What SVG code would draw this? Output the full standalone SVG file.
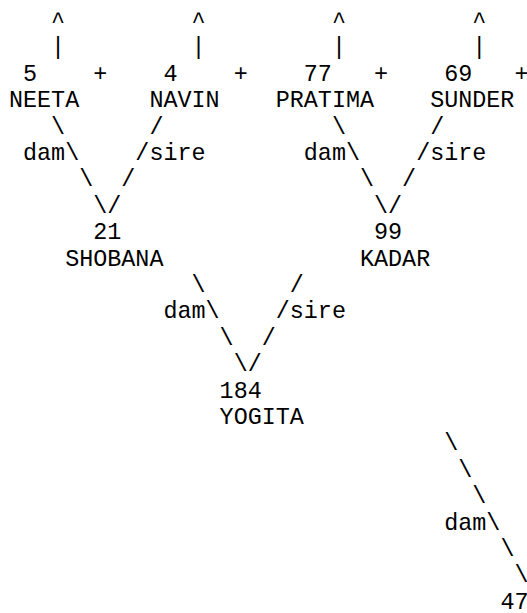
<svg xmlns="http://www.w3.org/2000/svg" width="527" height="613" viewBox="0 0 527 613">
<style>
text { font-family: "Liberation Mono", "Courier New", monospace; font-size: 23.4px; fill: #000; white-space: pre; }
</style>
<rect width="527" height="613" fill="#fff"/>
<g id="connectors">
  <!-- row 0: ^ -->
  <text x="51.12" y="28">^</text>
  <text x="191.52" y="28">^</text>
  <text x="331.92" y="28">^</text>
  <text x="472.32" y="28">^</text>
  <!-- row 1: | -->
  <text x="51.12" y="54.4">|</text>
  <text x="191.52" y="54.4">|</text>
  <text x="331.92" y="54.4">|</text>
  <text x="472.32" y="54.4">|</text>
  <!-- row 2: + -->
  <text x="93.24" y="80.8">+</text>
  <text x="233.64" y="80.8">+</text>
  <text x="374.04" y="80.8">+</text>
  <text x="514.44" y="80.8">+</text>
  <!-- row 4 -->
  <text x="51.12" y="133.6">\</text>
  <text x="149.4" y="133.6">/</text>
  <text x="331.92" y="133.6">\</text>
  <text x="430.2" y="133.6">/</text>
  <!-- row 5 -->
  <text x="23.04" y="160">dam\</text>
  <text x="135.36" y="160">/sire</text>
  <text x="303.84" y="160">dam\</text>
  <text x="416.16" y="160">/sire</text>
  <!-- row 6 -->
  <text x="79.2" y="186.4">\</text>
  <text x="121.32" y="186.4">/</text>
  <text x="360" y="186.4">\</text>
  <text x="402.12" y="186.4">/</text>
  <!-- row 7 -->
  <text x="93.24" y="212.8">\/</text>
  <text x="374.04" y="212.8">\/</text>
  <!-- row 10 -->
  <text x="191.52" y="292">\</text>
  <text x="289.8" y="292">/</text>
  <!-- row 11 -->
  <text x="163.44" y="318.4">dam\</text>
  <text x="275.76" y="318.4">/sire</text>
  <!-- row 12 -->
  <text x="219.6" y="344.8">\</text>
  <text x="261.72" y="344.8">/</text>
  <!-- row 13 -->
  <text x="233.64" y="371.2">\/</text>
  <!-- rows 16-21 -->
  <text x="444.24" y="450.4">\</text>
  <text x="458.28" y="476.8">\</text>
  <text x="472.32" y="503.2">\</text>
  <text x="444.24" y="529.6">dam\</text>
  <text x="500.4" y="556">\</text>
  <text x="514.44" y="582.4">\</text>
</g>
<g id="node-5">
  <text x="23.04" y="80.8">5</text>
  <text x="9" y="107.2">NEETA</text>
</g>
<g id="node-4">
  <text x="163.44" y="80.8">4</text>
  <text x="149.4" y="107.2">NAVIN</text>
</g>
<g id="node-77">
  <text x="303.84" y="80.8">77</text>
  <text x="275.76" y="107.2">PRATIMA</text>
</g>
<g id="node-69">
  <text x="444.24" y="80.8">69</text>
  <text x="430.2" y="107.2">SUNDER</text>
</g>
<g id="node-21">
  <text x="93.24" y="239.2">21</text>
  <text x="65.16" y="265.6">SHOBANA</text>
</g>
<g id="node-99">
  <text x="374.04" y="239.2">99</text>
  <text x="360" y="265.6">KADAR</text>
</g>
<g id="node-184">
  <text x="219.6" y="397.6">184</text>
  <text x="219.6" y="424">YOGITA</text>
</g>
<g id="node-47">
  <text x="500.4" y="608.8">47</text>
</g>
</svg>
